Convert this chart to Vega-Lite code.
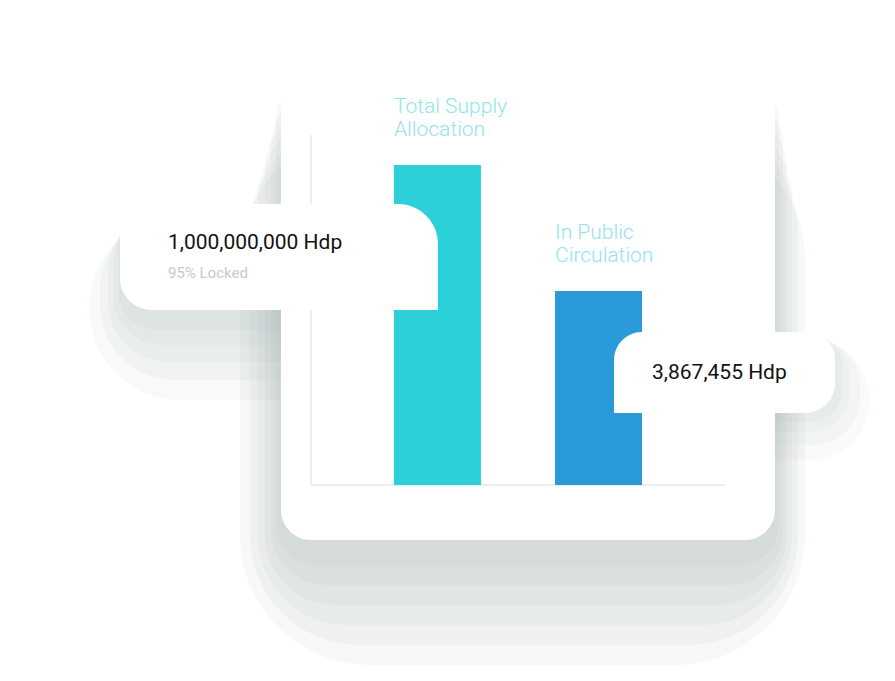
{
  "$schema": "https://vega.github.io/schema/vega-lite/v6.json",
  "width": 414,
  "height": 350,
  "autosize": {"type": "none"},
  "padding": {"left": 311, "top": 135, "right": 170, "bottom": 196},
  "background": "#ffffff",
  "config": {"view": {"stroke": null}, "font": "Roboto"},
  "data": {
    "values": [
      {"category": "Total Supply Allocation", "label": "Total Supply\nAllocation", "barValue": 320, "amount": "1,000,000,000 Hdp", "note": "95% Locked"},
      {"category": "In Public Circulation", "label": "In Public\nCirculation", "barValue": 194, "amount": "3,867,455 Hdp", "note": ""}
    ]
  },
  "layer": [
    {"transform": [{"filter": "datum.category === 'Total Supply Allocation'"}],
     "mark": {"type": "bar", "width": 350, "xOffset": -172.5, "color": "#8a9898", "opacity": 0.06, "cornerRadius": 90},
     "encoding": {"x": {"field": "category", "type": "nominal", "axis": null, "scale": {"domain": ["Total Supply Allocation", "In Public Circulation"], "paddingInner": 0.46, "paddingOuter": 0.515}},
       "y": {"datum": 270, "axis": null, "scale": {"domain": [0, 350], "nice": false}}, "y2": {"datum": 85}}},
    {"transform": [{"filter": "datum.category === 'Total Supply Allocation'"}],
     "mark": {"type": "bar", "width": 340, "xOffset": -167.5, "color": "#8a9898", "opacity": 0.06, "cornerRadius": 75},
     "encoding": {"x": {"field": "category", "type": "nominal", "axis": null}, "y": {"datum": 270, "axis": null}, "y2": {"datum": 105}}},
    {"transform": [{"filter": "datum.category === 'Total Supply Allocation'"}],
     "mark": {"type": "bar", "width": 332, "xOffset": -163.5, "color": "#8a9898", "opacity": 0.06, "cornerRadius": 60},
     "encoding": {"x": {"field": "category", "type": "nominal", "axis": null}, "y": {"datum": 273, "axis": null}, "y2": {"datum": 123}}},
    {"transform": [{"filter": "datum.category === 'Total Supply Allocation'"}],
     "mark": {"type": "bar", "width": 326, "xOffset": -160.5, "color": "#8a9898", "opacity": 0.06, "cornerRadius": 48},
     "encoding": {"x": {"field": "category", "type": "nominal", "axis": null}, "y": {"datum": 275, "axis": null}, "y2": {"datum": 140}}},
    {"transform": [{"filter": "datum.category === 'Total Supply Allocation'"}],
     "mark": {"type": "bar", "width": 322, "xOffset": -158.5, "color": "#8a9898", "opacity": 0.06, "cornerRadius": 40},
     "encoding": {"x": {"field": "category", "type": "nominal", "axis": null}, "y": {"datum": 277, "axis": null}, "y2": {"datum": 155}}},

    {"transform": [{"filter": "datum.category === 'In Public Circulation'"}],
     "mark": {"type": "bar", "width": 270, "xOffset": 136.5, "color": "#8a9898", "opacity": 0.05, "cornerRadius": 60},
     "encoding": {"x": {"field": "category", "type": "nominal", "axis": null}, "y": {"datum": 145, "axis": null}, "y2": {"datum": 25}}},
    {"transform": [{"filter": "datum.category === 'In Public Circulation'"}],
     "mark": {"type": "bar", "width": 255, "xOffset": 134, "color": "#8a9898", "opacity": 0.05, "cornerRadius": 48},
     "encoding": {"x": {"field": "category", "type": "nominal", "axis": null}, "y": {"datum": 147, "axis": null}, "y2": {"datum": 40}}},
    {"transform": [{"filter": "datum.category === 'In Public Circulation'"}],
     "mark": {"type": "bar", "width": 240, "xOffset": 131.5, "color": "#8a9898", "opacity": 0.05, "cornerRadius": 40},
     "encoding": {"x": {"field": "category", "type": "nominal", "axis": null}, "y": {"datum": 149, "axis": null}, "y2": {"datum": 53}}},
    {"transform": [{"filter": "datum.category === 'In Public Circulation'"}],
     "mark": {"type": "bar", "width": 231, "xOffset": 129, "color": "#8a9898", "opacity": 0.05, "cornerRadius": 34},
     "encoding": {"x": {"field": "category", "type": "nominal", "axis": null}, "y": {"datum": 151, "axis": null}, "y2": {"datum": 63}}},

    {"transform": [{"filter": "datum.category === 'Total Supply Allocation'"}],
     "mark": {"type": "bar", "width": 565, "xOffset": 85, "color": "#8a9898", "opacity": 0.07, "cornerRadius": 130},
     "encoding": {"x": {"field": "category", "type": "nominal", "axis": null}, "y": {"datum": 355, "axis": null}, "y2": {"datum": -180}}},
    {"transform": [{"filter": "datum.category === 'Total Supply Allocation'"}],
     "mark": {"type": "bar", "width": 548, "xOffset": 86.5, "color": "#8a9898", "opacity": 0.07, "cornerRadius": 110},
     "encoding": {"x": {"field": "category", "type": "nominal", "axis": null}, "y": {"datum": 365, "axis": null}, "y2": {"datum": -160}}},
    {"transform": [{"filter": "datum.category === 'Total Supply Allocation'"}],
     "mark": {"type": "bar", "width": 534, "xOffset": 87.5, "color": "#8a9898", "opacity": 0.07, "cornerRadius": 90},
     "encoding": {"x": {"field": "category", "type": "nominal", "axis": null}, "y": {"datum": 375, "axis": null}, "y2": {"datum": -140}}},
    {"transform": [{"filter": "datum.category === 'Total Supply Allocation'"}],
     "mark": {"type": "bar", "width": 522, "xOffset": 88.5, "color": "#8a9898", "opacity": 0.07, "cornerRadius": 70},
     "encoding": {"x": {"field": "category", "type": "nominal", "axis": null}, "y": {"datum": 385, "axis": null}, "y2": {"datum": -120}}},
    {"transform": [{"filter": "datum.category === 'Total Supply Allocation'"}],
     "mark": {"type": "bar", "width": 512, "xOffset": 89.5, "color": "#8a9898", "opacity": 0.07, "cornerRadius": 55},
     "encoding": {"x": {"field": "category", "type": "nominal", "axis": null}, "y": {"datum": 395, "axis": null}, "y2": {"datum": -100}}},
    {"transform": [{"filter": "datum.category === 'Total Supply Allocation'"}],
     "mark": {"type": "bar", "width": 503, "xOffset": 90, "color": "#8a9898", "opacity": 0.07, "cornerRadius": 40},
     "encoding": {"x": {"field": "category", "type": "nominal", "axis": null}, "y": {"datum": 405, "axis": null}, "y2": {"datum": -80}}},

    {"transform": [{"filter": "datum.category === 'Total Supply Allocation'"}],
     "mark": {"type": "bar", "width": 494, "xOffset": 90.5, "color": "#ffffff", "cornerRadius": 30},
     "encoding": {"x": {"field": "category", "type": "nominal", "axis": null}, "y": {"datum": 435, "axis": null}, "y2": {"datum": -55}}},

    {"transform": [{"filter": "datum.category === 'Total Supply Allocation'"}],
     "mark": {"type": "rule", "color": "#eeeeee", "strokeWidth": 2},
     "encoding": {"y": {"datum": 0, "axis": null}}},
    {"transform": [{"filter": "datum.category === 'Total Supply Allocation'"}],
     "mark": {"type": "rule", "color": "#eeeeee", "strokeWidth": 2, "xOffset": -83},
     "encoding": {"x": {"field": "category", "type": "nominal", "bandPosition": 0, "axis": null}}},

    {"mark": {"type": "bar"},
     "encoding": {
       "x": {"field": "category", "type": "nominal", "axis": null},
       "y": {"field": "barValue", "type": "quantitative", "axis": null},
       "color": {"field": "category", "type": "nominal", "legend": null,
         "scale": {"domain": ["Total Supply Allocation", "In Public Circulation"], "range": ["#2cd0d8", "#2a9ad8"]}}}},
    {"mark": {"type": "text", "align": "left", "baseline": "alphabetic", "dy": -52, "lineBreak": "\n", "lineHeight": 23, "fontSize": 21, "fontWeight": 300, "font": "Roboto", "color": "#92e4eb"},
     "encoding": {
       "x": {"field": "category", "type": "nominal", "bandPosition": 0, "axis": null},
       "y": {"field": "barValue", "type": "quantitative", "axis": null},
       "text": {"field": "label"}}},

    {"transform": [{"filter": "datum.category === 'Total Supply Allocation'"}],
     "mark": {"type": "bar", "width": 318, "xOffset": -158.5, "yOffset": 39, "y2Offset": 145, "color": "#ffffff",
       "cornerRadiusTopLeft": 32, "cornerRadiusTopRight": 40, "cornerRadiusBottomLeft": 32, "cornerRadiusBottomRight": 0},
     "encoding": {"x": {"field": "category", "type": "nominal", "axis": null}, "y": {"field": "barValue", "type": "quantitative", "axis": null}, "y2": {"field": "barValue"}}},
    {"transform": [{"filter": "datum.category === 'In Public Circulation'"}],
     "mark": {"type": "bar", "width": 221, "xOffset": 126, "yOffset": 41, "y2Offset": 122, "color": "#ffffff",
       "cornerRadiusTopLeft": 28, "cornerRadiusTopRight": 28, "cornerRadiusBottomLeft": 0, "cornerRadiusBottomRight": 30},
     "encoding": {"x": {"field": "category", "type": "nominal", "axis": null}, "y": {"field": "barValue", "type": "quantitative", "axis": null}, "y2": {"field": "barValue"}}},

    {"transform": [{"filter": "datum.category === 'Total Supply Allocation'"}],
     "mark": {"type": "text", "align": "left", "baseline": "alphabetic", "dx": -226, "dy": 84, "fontSize": 21, "fontWeight": 400, "font": "Roboto", "color": "#111111"},
     "encoding": {"x": {"field": "category", "type": "nominal", "bandPosition": 0, "axis": null}, "y": {"field": "barValue", "type": "quantitative", "axis": null}, "text": {"field": "amount"}}},
    {"transform": [{"filter": "datum.category === 'Total Supply Allocation'"}],
     "mark": {"type": "text", "align": "left", "baseline": "alphabetic", "dx": -226, "dy": 113, "fontSize": 15, "font": "Roboto", "color": "#c9c9c9"},
     "encoding": {"x": {"field": "category", "type": "nominal", "bandPosition": 0, "axis": null}, "y": {"field": "barValue", "type": "quantitative", "axis": null}, "text": {"field": "note"}}},
    {"transform": [{"filter": "datum.category === 'In Public Circulation'"}],
     "mark": {"type": "text", "align": "left", "baseline": "alphabetic", "dx": 97, "dy": 88, "fontSize": 21, "fontWeight": 400, "font": "Roboto", "color": "#111111"},
     "encoding": {"x": {"field": "category", "type": "nominal", "bandPosition": 0, "axis": null}, "y": {"field": "barValue", "type": "quantitative", "axis": null}, "text": {"field": "amount"}}}
  ]
}
